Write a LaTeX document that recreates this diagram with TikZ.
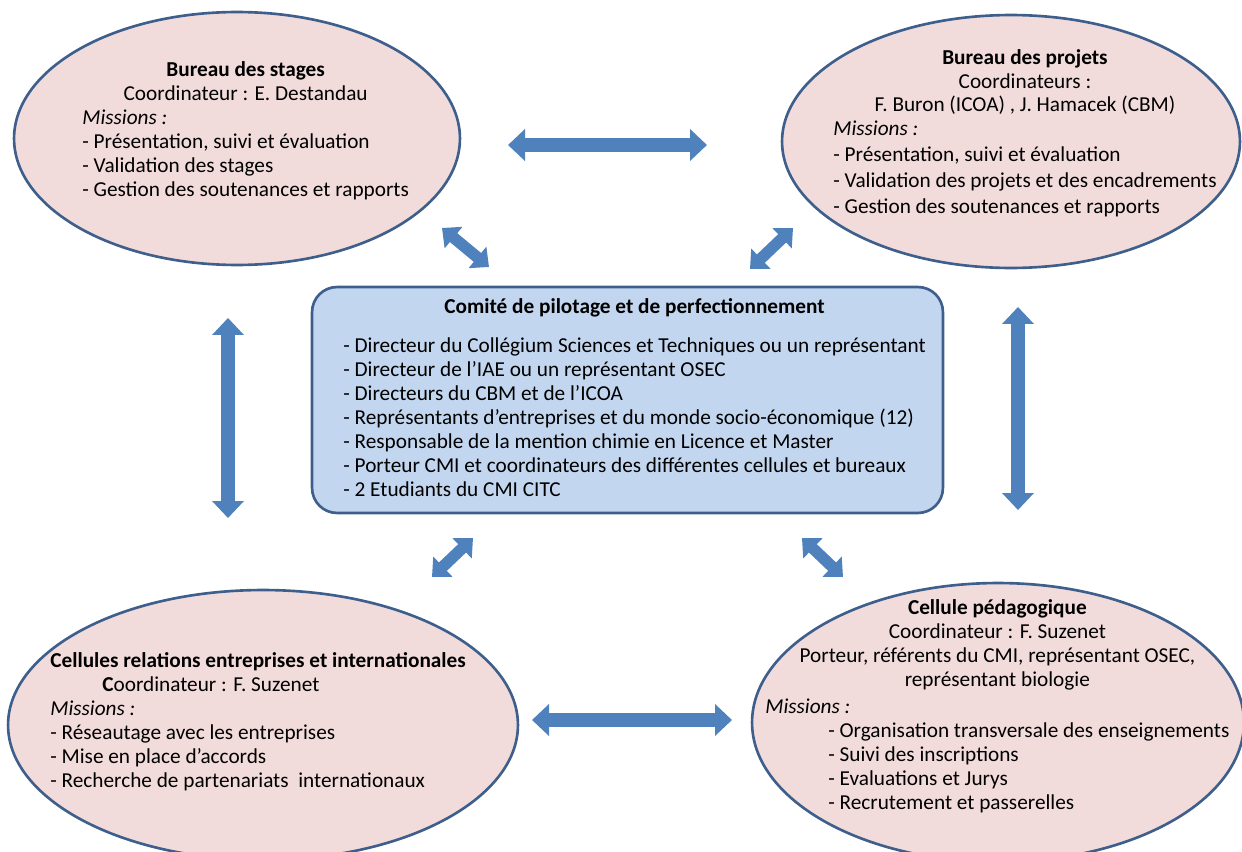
\documentclass[tikz,border=0pt]{standalone}
\usepackage{fontspec}
\setmainfont{Carlito}
\usetikzlibrary{shapes,arrows.meta,positioning}
\definecolor{bubblefill}{HTML}{F2DCDB}
\definecolor{bubbleline}{HTML}{3E5F8C}
\definecolor{boxfill}{HTML}{C3D6EF}
\definecolor{linkblue}{HTML}{4F81BD}

\begin{document}
\begin{tikzpicture}[x=0.02cm, y=-0.02cm]
	\tikzstyle{bubble} = [ellipse, draw=bubbleline, fill=bubblefill, line width=1.5pt, inner sep=0pt]
	\tikzstyle{board} = [rectangle, rounded corners=0.5cm, draw=bubbleline, fill=boxfill, line width=1.5pt, minimum width=12.62cm, minimum height=4.52cm]
	\tikzstyle{txt} = [anchor=base west, inner sep=0pt, font=\fontsize{12.1}{13.66}\selectfont]
	\tikzstyle{link} = [line width=0.27cm, draw=linkblue, {Triangle[width=0.62cm,length=0.34cm]}-{Triangle[width=0.62cm,length=0.34cm]}]
	\tikzstyle{slink} = [line width=0.23cm, draw=linkblue, {Triangle[width=0.54cm,length=0.3cm]}-{Triangle[width=0.54cm,length=0.3cm]}]
	\useasboundingbox (0,0) rectangle (1242,852);
	\clip (0,0) rectangle (1242,852);
	
	\node[bubble, minimum width=8.92cm, minimum height=5.06cm] (stages) at (237,138.5) {};
	\node[bubble, minimum width=9.16cm, minimum height=5.06cm] (projets) at (1011,141.5) {};
	\node[bubble, minimum width=10.2cm, minimum height=5.4cm] (relations) at (263,725) {};
	\node[bubble, minimum width=9.84cm, minimum height=5.58cm] (pedago) at (998,722.5) {};
	\node[board] (comite) at (627.5,400) {};
	
	\node[txt] (stagesTxt) at (82,76) {\begin{tabular}[t]{@{}l@{}}
		\multicolumn{1}{@{}c@{}}{\textbf{Bureau des stages}}\\
		\multicolumn{1}{@{}c@{}}{Coordinateur : E. Destandau}\\
		\textit{Missions :}\\
		- Présentation, suivi et évaluation\\
		- Validation des stages\\
		- Gestion des soutenances et rapports
	\end{tabular}};
	
	\node[txt] (projetsTxt) at (833,64) {\begin{tabular}[t]{@{}l@{}}
		\multicolumn{1}{@{}c@{}}{\textbf{Bureau des projets}}\\
		\multicolumn{1}{@{}c@{}}{Coordinateurs :}\\
		\multicolumn{1}{@{}c@{}}{F. Buron (ICOA) , J. Hamacek (CBM)}\\
		\textit{Missions :}\\[1pt]
		- Présentation, suivi et évaluation\\[1pt]
		- Validation des projets et des encadrements\\[1pt]
		- Gestion des soutenances et rapports
	\end{tabular}};
	
	\node[txt] (comiteTxt) at (343,313) {\begin{tabular}[t]{@{}l@{}}
		\multicolumn{1}{@{}c@{}}{\textbf{Comité de pilotage et de perfectionnement}}\\[9pt]
		- Directeur du Collégium Sciences et Techniques ou un représentant\\
		- Directeur de l’IAE ou un représentant OSEC\\
		- Directeurs du CBM et de l’ICOA\\
		- Représentants d’entreprises et du monde socio-économique (12)\\
		- Responsable de la mention chimie en Licence et Master\\
		- Porteur CMI et coordinateurs des différentes cellules et bureaux\\
		- 2 Etudiants du CMI CITC
	\end{tabular}};
	
	\node[txt] (relationsTxt) at (50,667) {\begin{tabular}[t]{@{}l@{}}
		\textbf{Cellules relations entreprises et internationales}\\
		\hspace{1.04cm}\textbf{C}oordinateur : F. Suzenet\\
		\textit{Missions :}\\
		- Réseautage avec les entreprises\\
		- Mise en place d’accords\\
		- Recherche de partenariats\ \ internationaux
	\end{tabular}};
	
	\node[txt] (pedagoTxt) at (765,614) {\begin{tabular}[t]{@{}l@{}}
		\multicolumn{1}{@{}c@{}}{\textbf{Cellule pédagogique}}\\
		\multicolumn{1}{@{}c@{}}{Coordinateur : F. Suzenet}\\
		\multicolumn{1}{@{}c@{}}{Porteur, référents du CMI, représentant OSEC,}\\
		\multicolumn{1}{@{}c@{}}{représentant biologie}\\[2pt]
		\textit{Missions :}\\
		\hspace{1.26cm}- Organisation transversale des enseignements\\
		\hspace{1.26cm}- Suivi des inscriptions\\
		\hspace{1.26cm}- Evaluations et Jurys\\
		\hspace{1.26cm}- Recrutement et passerelles
	\end{tabular}};
	
	% arrow ends
	\coordinate (st2pr) at (508,145);
	\coordinate (pr2st) at (707,145);
	\coordinate (st2co) at (442,228);
	\coordinate (co2st) at (489,267);
	\coordinate (pr2co) at (793,228);
	\coordinate (co2pr) at (750,269);
	\coordinate (st2re) at (228,318);
	\coordinate (re2st) at (228,518);
	\coordinate (pr2pe) at (1018,307);
	\coordinate (pe2pr) at (1018,510);
	\coordinate (co2re) at (473,538);
	\coordinate (re2co) at (432,577);
	\coordinate (co2pe) at (802,538);
	\coordinate (pe2co) at (843,577);
	\coordinate (re2pe) at (532,720);
	\coordinate (pe2re) at (732,720);
	
	\draw[link] (st2pr) -- (pr2st);
	\draw[link] (re2pe) -- (pe2re);
	\draw[link] (st2re) -- (re2st);
	\draw[link] (pr2pe) -- (pe2pr);
	\draw[slink] (st2co) -- (co2st);
	\draw[slink] (pr2co) -- (co2pr);
	\draw[slink] (co2re) -- (re2co);
	\draw[slink] (co2pe) -- (pe2co);
\end{tikzpicture}
\end{document}
